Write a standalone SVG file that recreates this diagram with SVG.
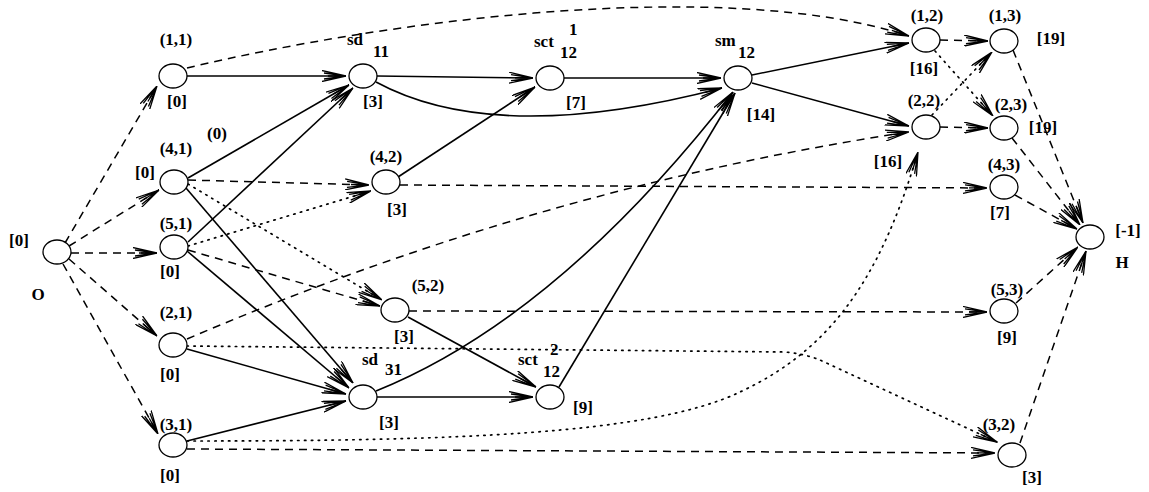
<svg xmlns="http://www.w3.org/2000/svg" width="1149" height="492" viewBox="0 0 1149 492">
<style>
.bg{fill:#fff}
.n{fill:#fff;stroke:#000;stroke-width:1.3}
.s{fill:none;stroke:#000;stroke-width:1.6;marker-end:url(#a)}
.d{fill:none;stroke:#000;stroke-width:1.5;stroke-dasharray:8 6;marker-end:url(#a)}
.p{fill:none;stroke:#000;stroke-width:1.7;stroke-dasharray:1.4 5.5;stroke-linecap:round;marker-end:url(#a)}
text{font-family:"Liberation Serif","Times New Roman",serif;font-size:17px;font-weight:bold;fill:#000}
.c{text-anchor:middle}
</style>
<defs>
<marker id="a" viewBox="0 0 24 12" markerWidth="24" markerHeight="12" refX="24" refY="6" orient="auto" markerUnits="userSpaceOnUse">
<path d="M0,0.5 L24,6 L0,11.5 M6,6 L24,6 M2,3 L24,6 M2,9 L24,6" fill="none" stroke="#000" stroke-width="1.3"/>
</marker>
</defs>
<rect class="bg" x="0" y="0" width="1149" height="492"/>
<g id="connectors">
<path class="d" d="M65,243 L157,86"/>
<path class="d" d="M69,246 L159,190"/>
<path class="d" d="M71,253 L157,253"/>
<path class="d" d="M69,259 L157,336"/>
<path class="d" d="M63,264 L158,434"/>
<path class="d" d="M187,68 C380,22 720,-25 909,36"/>
<path class="d" d="M188,180 L369,185"/>
<path class="d" d="M188,250 L380,306"/>
<path class="d" d="M187,339 Q542,187 909,132"/>
<path class="d" d="M400,185 L987,188"/>
<path class="d" d="M409,311 L987,312"/>
<path class="d" d="M187,449 L995,453"/>
<path class="d" d="M940,40 L988,41"/>
<path class="d" d="M940,127 L988,128"/>
<path class="d" d="M1013,50 L1083,223"/>
<path class="d" d="M1012,138 L1080,225"/>
<path class="d" d="M1015,195 L1077,229"/>
<path class="d" d="M1016,303 L1078,247"/>
<path class="d" d="M1020,443 L1086,251"/>
<path class="p" d="M188,184 L382,300"/>
<path class="p" d="M188,246 L371,191"/>
<path class="p" d="M187,346 L785,352 Q805,354 820,360 L997,442"/>
<path class="p" d="M187,441 C450,441 650,435 740,392 C830,350 880,280 918,152"/>
<path class="p" d="M935,51 L993,116"/>
<path class="p" d="M932,115 L992,52"/>
<path class="s" d="M187,76 L346,76"/>
<path class="s" d="M188,178 L349,85"/>
<path class="s" d="M188,242 L353,88"/>
<path class="s" d="M186,188 L353,383"/>
<path class="s" d="M187,251 L349,388"/>
<path class="s" d="M187,349 L346,394"/>
<path class="s" d="M187,441 L346,401"/>
<path class="s" d="M377,76 L533,78"/>
<path class="s" d="M376,82 Q496,147 722,88"/>
<path class="s" d="M398,177 L535,87"/>
<path class="s" d="M564,78 L721,78"/>
<path class="s" d="M376,391 Q557,318 733,92"/>
<path class="s" d="M377,397 L533,397"/>
<path class="s" d="M408,317 L536,387"/>
<path class="s" d="M559,387 L735,93"/>
<path class="s" d="M752,75 L909,43"/>
<path class="s" d="M752,83 L909,126"/>
</g>
<g id="node-O"><ellipse class="n" cx="57" cy="252" rx="14" ry="12"/><text class="c" x="19" y="246">[0]</text><text class="c" x="38" y="300">O</text></g>
<g id="node-1-1"><ellipse class="n" cx="173" cy="76" rx="14" ry="12"/><text class="c" x="176" y="45">(1,1)</text><text class="c" x="177" y="107">[0]</text></g>
<g id="node-4-1"><ellipse class="n" cx="174" cy="182" rx="14" ry="12"/><text class="c" x="176" y="154">(4,1)</text><text class="c" x="145" y="178">[0]</text><text class="c" x="217" y="139">(0)</text></g>
<g id="node-5-1"><ellipse class="n" cx="174" cy="247" rx="14" ry="12"/><text class="c" x="176" y="229">(5,1)</text><text class="c" x="170" y="277">[0]</text></g>
<g id="node-2-1"><ellipse class="n" cx="173" cy="345" rx="14" ry="12"/><text class="c" x="176" y="318">(2,1)</text><text class="c" x="170" y="380">[0]</text></g>
<g id="node-3-1"><ellipse class="n" cx="173" cy="445" rx="14" ry="12"/><text class="c" x="176" y="430">(3,1)</text><text class="c" x="170" y="481">[0]</text></g>
<g id="node-sd11"><ellipse class="n" cx="363" cy="76" rx="14" ry="12"/><text x="347" y="45">sd</text><text x="373" y="57">11</text><text class="c" x="373" y="107">[3]</text></g>
<g id="node-4-2"><ellipse class="n" cx="386" cy="182" rx="14" ry="12"/><text class="c" x="386" y="162">(4,2)</text><text class="c" x="397" y="215">[3]</text></g>
<g id="node-5-2"><ellipse class="n" cx="395" cy="310" rx="14" ry="12"/><text class="c" x="428" y="291">(5,2)</text><text class="c" x="404" y="342">[3]</text></g>
<g id="node-sd31"><ellipse class="n" cx="363" cy="397" rx="14" ry="12"/><text x="362" y="365">sd</text><text x="385" y="375">31</text><text class="c" x="389" y="428">[3]</text></g>
<g id="node-sct1-12"><ellipse class="n" cx="550" cy="78" rx="14" ry="12"/><text x="534" y="47">sct</text><text x="569" y="35">1</text><text x="560" y="58">12</text><text class="c" x="576" y="108">[7]</text></g>
<g id="node-sm12"><ellipse class="n" cx="738" cy="78" rx="14" ry="12"/><text x="715" y="46">sm</text><text x="738" y="58">12</text><text class="c" x="761" y="120">[14]</text></g>
<g id="node-sct2-12"><ellipse class="n" cx="550" cy="397" rx="14" ry="12"/><text x="518" y="365">sct</text><text x="550" y="355">2</text><text x="543" y="377">12</text><text class="c" x="583" y="413">[9]</text></g>
<g id="node-1-2"><ellipse class="n" cx="926" cy="40" rx="14" ry="12"/><text class="c" x="927" y="21">(1,2)</text><text class="c" x="924" y="74">[16]</text></g>
<g id="node-1-3"><ellipse class="n" cx="1004" cy="41" rx="14" ry="12"/><text class="c" x="1005" y="21">(1,3)</text><text class="c" x="1051" y="44">[19]</text></g>
<g id="node-2-2"><ellipse class="n" cx="926" cy="127" rx="14" ry="12"/><text class="c" x="924" y="106">(2,2)</text><text class="c" x="888" y="167">[16]</text></g>
<g id="node-2-3"><ellipse class="n" cx="1004" cy="128" rx="14" ry="12"/><text class="c" x="1011" y="110">(2,3)</text><text class="c" x="1043" y="133">[19]</text></g>
<g id="node-4-3"><ellipse class="n" cx="1004" cy="187" rx="14" ry="12"/><text class="c" x="1004" y="170">(4,3)</text><text class="c" x="1000" y="218">[7]</text></g>
<g id="node-5-3"><ellipse class="n" cx="1004" cy="311" rx="14" ry="12"/><text class="c" x="1007" y="295">(5,3)</text><text class="c" x="1007" y="343">[9]</text></g>
<g id="node-3-2"><ellipse class="n" cx="1012" cy="455" rx="14" ry="12"/><text class="c" x="999" y="430">(3,2)</text><text class="c" x="1032" y="483">[3]</text></g>
<g id="node-H"><ellipse class="n" cx="1090" cy="237" rx="14" ry="12"/><text class="c" x="1128" y="236">[-1]</text><text class="c" x="1122" y="268">H</text></g>
</svg>
